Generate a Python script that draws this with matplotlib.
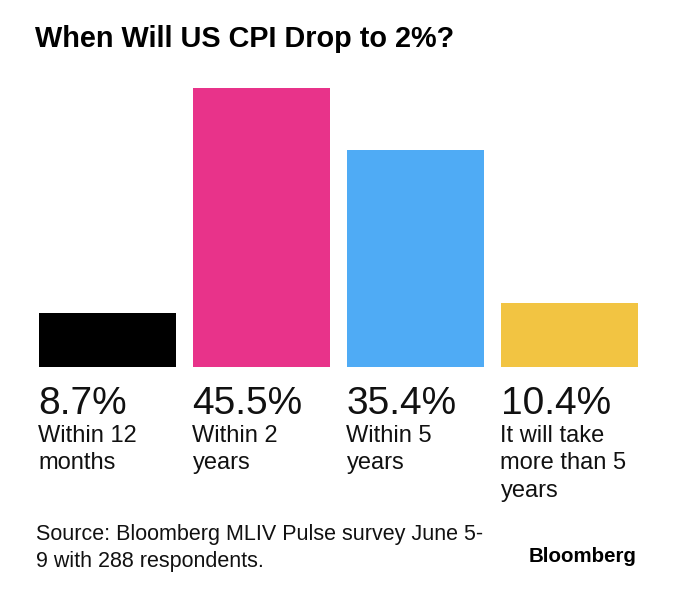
import matplotlib
matplotlib.use("Agg")
import matplotlib.pyplot as plt

# dados
categorias = [["Within 12", "months"],
              ["Within 2", "years"],
              ["Within 5", "years"],
              ["It will take", "more than 5", "years"]]
valores = [8.7, 45.5, 35.4, 10.4]
cores = ["#000000", "#E8338A", "#4FABF5", "#F2C442"]

titulo = "When Will US CPI Drop to 2%?"
fonte = ["Source: Bloomberg MLIV Pulse survey June 5-",
         "9 with 288 respondents."]

W, H = 680, 596
familia = "Liberation Sans"


def fy(py):
    # pixel a partir do topo -> fração da figura
    return 1 - py / H


fig = plt.figure(figsize=(W / 100, H / 100), dpi=100)
fig.patch.set_facecolor("white")

# eixos: xlim -0.5..3.5, ylim 0..50
passo = 154.0
esq = 107 - 0.5 * passo
base = 366.7
altura = 50 * 6.119
ax = fig.add_axes([esq / W, fy(base), 4 * passo / W, altura / H])
ax.set_xlim(-0.5, 3.5)
ax.set_ylim(0, 50)
ax.axis("off")

largura = 137 / passo
x = range(len(valores))
ax.bar(x, valores, width=largura, color=cores, linewidth=0)

for i, (v, cat) in enumerate(zip(valores, categorias)):
    xe = i - largura / 2
    ax.annotate(f"{v}%", xy=(xe, fy(414.5)), xycoords=("data", "figure fraction"),
                ha="left", va="baseline", fontsize=28, family=familia, color="#111111")
    for j, linha in enumerate(cat):
        ax.annotate(linha, xy=(xe, fy(441.7 + j * 27.7)), xycoords=("data", "figure fraction"),
                    ha="left", va="baseline", fontsize=17, family=familia, color="#111111")

fig.text(35 / W, fy(47), titulo, fontsize=20.8, fontweight="bold", family=familia,
         ha="left", va="baseline", color="black")

for j, linha in enumerate(fonte):
    fig.text(36 / W, fy(540 + j * 27), linha, fontsize=15.5, family=familia,
             ha="left", va="baseline", color="#111111")

fig.text(637 / W, fy(562), "Bloomberg", fontsize=14.8, fontweight="bold",
         family=familia, ha="right", va="baseline", color="black")

fig.savefig("out.png", dpi=100)
